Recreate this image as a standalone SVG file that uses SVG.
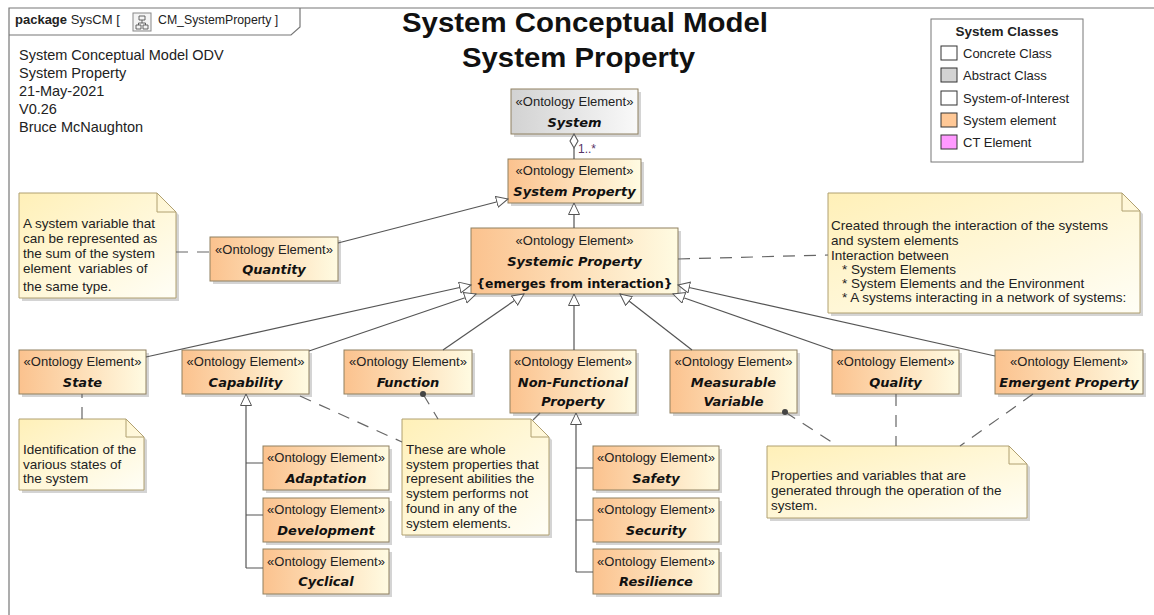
<svg xmlns="http://www.w3.org/2000/svg" width="1154" height="615" viewBox="0 0 1154 615">
<defs>
<linearGradient id="gEl" x1="0" y1="0" x2="1" y2="0">
<stop offset="0" stop-color="#fbc28e"/>
<stop offset="1" stop-color="#fffbe2"/>
</linearGradient>
<linearGradient id="gAbs" x1="0" y1="0" x2="1" y2="0">
<stop offset="0" stop-color="#d2d2d2"/>
<stop offset="1" stop-color="#f9f9f9"/>
</linearGradient>
<linearGradient id="gNote" x1="0" y1="0" x2="1" y2="1">
<stop offset="0" stop-color="#fff0b8"/>
<stop offset="1" stop-color="#fffef6"/>
</linearGradient>
<marker id="gen" markerUnits="userSpaceOnUse" markerWidth="14" markerHeight="14" refX="12" refY="6" orient="auto">
<path d="M0.5,0.5 L12,6 L0.5,11.5 Z" fill="#fff" stroke="#555" stroke-width="1"/>
</marker>
<style>
.frame{fill:none;stroke:#777;stroke-width:1.2}
.box{stroke:#8f8060;stroke-width:1}
.el{fill:url(#gEl)}
.abs{fill:url(#gAbs)}
.shadow{fill:#a0a0a0;opacity:0.45}
.note{fill:url(#gNote);stroke:#b0a070;stroke-width:1}
.fold{fill:none;stroke:#b0a070;stroke-width:1}
.st{font-family:"Liberation Sans",Arial,sans-serif;font-size:13px;fill:#222;text-anchor:middle}
.nm{font-family:"DejaVu Sans",Verdana,sans-serif;font-size:13px;font-weight:bold;font-style:italic;fill:#111;text-anchor:middle}
.cn{font-family:"DejaVu Sans",Verdana,sans-serif;font-size:12.4px;font-weight:bold;font-style:normal;fill:#111;text-anchor:middle}
.nt{font-family:"Liberation Sans",Arial,sans-serif;font-size:13.5px;fill:#222}
.hd{font-family:"Liberation Sans",Arial,sans-serif;font-size:14.5px;fill:#222}
.ttl{font-family:"Liberation Sans",Arial,sans-serif;font-size:28px;font-weight:bold;fill:#111}
.lg{font-family:"Liberation Sans",Arial,sans-serif;font-size:13px;fill:#222}
.line{fill:none;stroke:#555;stroke-width:1.2}
.dash{fill:none;stroke:#666;stroke-width:1.2;stroke-dasharray:12,9}
.gl{fill:none;stroke:#555;stroke-width:1.2;marker-end:url(#gen)}
</style>
</defs>
<rect x="0" y="0" width="1154" height="615" fill="#fff"/>

<g id="frame">
<path class="frame" d="M9,615 V8 H1154"/>
<path class="frame" d="M9,35 H291 L300,27 V8"/>
<text x="15" y="24" font-family="Liberation Sans,Arial,sans-serif" font-size="13" fill="#222"><tspan font-weight="bold">package</tspan> SysCM [</text>
<rect x="133" y="13" width="18" height="18" fill="#f4f4f4" stroke="#888" stroke-width="1"/>
<path d="M139,16 h6 v4 h-6 z M136,25 h5 v4 h-5 z M143,25 h5 v4 h-5 z M142,20 v3 M138.5,23 h7 M138.5,23 v2 M145.5,23 v2" fill="none" stroke="#555" stroke-width="0.9"/>
<text x="158" y="24" font-family="Liberation Sans,Arial,sans-serif" font-size="12.3" fill="#222">CM_SystemProperty ]</text>
</g>

<g id="header">
<text class="hd" x="19" y="59.5">System Conceptual Model ODV</text>
<text class="hd" x="19" y="77.5">System Property</text>
<text class="hd" x="19" y="95.5">21-May-2021</text>
<text class="hd" x="19" y="113.5">V0.26</text>
<text class="hd" x="19" y="131.5">Bruce McNaughton</text>
</g>

<g id="title">
<text class="ttl" x="402" y="32" textLength="366" lengthAdjust="spacingAndGlyphs">System Conceptual Model</text>
<text class="ttl" x="462" y="67" textLength="233" lengthAdjust="spacingAndGlyphs">System Property</text>
</g>

<g id="legend">
<rect x="931" y="19" width="152" height="143" fill="#fff" stroke="#777" stroke-width="1"/>
<text x="1007" y="36" font-family="Liberation Sans,Arial,sans-serif" font-size="13.5" font-weight="bold" fill="#222" text-anchor="middle">System Classes</text>
<rect x="941" y="46" width="16" height="14" fill="#fff" stroke="#333"/>
<text class="lg" x="963" y="58">Concrete Class</text>
<rect x="941" y="68" width="16" height="14" fill="#d3d3d3" stroke="#333"/>
<text class="lg" x="963" y="80">Abstract Class</text>
<rect x="941" y="91" width="16" height="14" fill="#fff" stroke="#333"/>
<text class="lg" x="963" y="103">System-of-Interest</text>
<rect x="941" y="113" width="16" height="14" fill="#ffc896" stroke="#333"/>
<text class="lg" x="963" y="125">System element</text>
<rect x="941" y="135" width="16" height="14" fill="#ff99ff" stroke="#333"/>
<text class="lg" x="963" y="147">CT Element</text>
</g>

<g id="System">
<rect class="shadow" x="514" y="92" width="127" height="45"/>
<rect class="box abs" x="511" y="89" width="127" height="45"/>
<text class="st" x="574.5" y="105.5">«Ontology Element»</text>
<text class="nm" x="574.5" y="126.5">System</text>
</g>
<g id="SystemProperty">
<rect class="shadow" x="511" y="162" width="133" height="44"/>
<rect class="box el" x="508" y="159" width="133" height="44"/>
<text class="st" x="574.5" y="175">«Ontology Element»</text>
<text class="nm" x="574.5" y="196">System Property</text>
</g>
<g id="SystemicProperty">
<rect class="shadow" x="474" y="231" width="207" height="66"/>
<rect class="box el" x="471" y="228" width="207" height="66"/>
<text class="st" x="574.5" y="244.5">«Ontology Element»</text>
<text class="nm" x="574.5" y="265.5">Systemic Property</text>
<text class="cn" x="574.5" y="287.5">{emerges from interaction}</text>
</g>
<g id="Quantity">
<rect class="shadow" x="213" y="240" width="128" height="44"/>
<rect class="box el" x="210" y="237" width="128" height="44"/>
<text class="st" x="274" y="253.5">«Ontology Element»</text>
<text class="nm" x="274" y="273.5">Quantity</text>
</g>
<g id="State">
<rect class="shadow" x="22" y="353" width="127" height="44"/>
<rect class="box el" x="19" y="350" width="127" height="44"/>
<text class="st" x="82.5" y="366">«Ontology Element»</text>
<text class="nm" x="82.5" y="387">State</text>
</g>
<g id="Capability">
<rect class="shadow" x="185" y="353" width="127" height="44"/>
<rect class="box el" x="182" y="350" width="127" height="44"/>
<text class="st" x="245.5" y="366">«Ontology Element»</text>
<text class="nm" x="245.5" y="387">Capability</text>
</g>
<g id="Function">
<rect class="shadow" x="347" y="353" width="128" height="44"/>
<rect class="box el" x="344" y="350" width="128" height="44"/>
<text class="st" x="408" y="366">«Ontology Element»</text>
<text class="nm" x="408" y="387">Function</text>
</g>
<g id="NonFunctionalProperty">
<rect class="shadow" x="513" y="353" width="126" height="63"/>
<rect class="box el" x="510" y="350" width="126" height="63"/>
<text class="st" x="573" y="366">«Ontology Element»</text>
<text class="nm" x="573" y="386.5">Non-Functional</text>
<text class="nm" x="573" y="405.5">Property</text>
</g>
<g id="MeasurableVariable">
<rect class="shadow" x="673" y="353" width="127" height="63"/>
<rect class="box el" x="670" y="350" width="127" height="63"/>
<text class="st" x="733.5" y="366">«Ontology Element»</text>
<text class="nm" x="733.5" y="386.5">Measurable</text>
<text class="nm" x="733.5" y="405.5">Variable</text>
</g>
<g id="Quality">
<rect class="shadow" x="835" y="353" width="127" height="44"/>
<rect class="box el" x="832" y="350" width="127" height="44"/>
<text class="st" x="895.5" y="366">«Ontology Element»</text>
<text class="nm" x="895.5" y="387">Quality</text>
</g>
<g id="EmergentProperty">
<rect class="shadow" x="998" y="353" width="148" height="44"/>
<rect class="box el" x="995" y="350" width="148" height="44"/>
<text class="st" x="1069" y="366">«Ontology Element»</text>
<text class="nm" x="1069" y="387">Emergent Property</text>
</g>
<g id="Adaptation">
<rect class="shadow" x="266" y="449" width="126" height="44"/>
<rect class="box el" x="263" y="446" width="126" height="44"/>
<text class="st" x="326" y="462">«Ontology Element»</text>
<text class="nm" x="326" y="482.5">Adaptation</text>
</g>
<g id="Development">
<rect class="shadow" x="266" y="501" width="126" height="44"/>
<rect class="box el" x="263" y="498" width="126" height="44"/>
<text class="st" x="326" y="514">«Ontology Element»</text>
<text class="nm" x="326" y="534.5">Development</text>
</g>
<g id="Cyclical">
<rect class="shadow" x="266" y="552" width="126" height="45"/>
<rect class="box el" x="263" y="549" width="126" height="45"/>
<text class="st" x="326" y="565.5">«Ontology Element»</text>
<text class="nm" x="326" y="586">Cyclical</text>
</g>
<g id="Safety">
<rect class="shadow" x="596" y="449" width="126" height="44"/>
<rect class="box el" x="593" y="446" width="126" height="44"/>
<text class="st" x="656" y="462">«Ontology Element»</text>
<text class="nm" x="656" y="482.5">Safety</text>
</g>
<g id="Security">
<rect class="shadow" x="596" y="501" width="126" height="44"/>
<rect class="box el" x="593" y="498" width="126" height="44"/>
<text class="st" x="656" y="514">«Ontology Element»</text>
<text class="nm" x="656" y="534.5">Security</text>
</g>
<g id="Resilience">
<rect class="shadow" x="596" y="552" width="126" height="45"/>
<rect class="box el" x="593" y="549" width="126" height="45"/>
<text class="st" x="656" y="565.5">«Ontology Element»</text>
<text class="nm" x="656" y="586">Resilience</text>
</g>

<g id="QuantityNote">
<path class="shadow" d="M22,196 H160 L179,215 V301 H22 Z"/>
<path class="note" d="M19,193 H157 L176,212 V298 H19 Z"/>
<path class="fold" d="M157,193 V212 H176"/>
<text class="nt" x="23" y="228">A system variable that</text>
<text class="nt" x="23" y="243">can be represented as</text>
<text class="nt" x="23" y="258">the sum of the system</text>
<text class="nt" x="23" y="273" xml:space="preserve">element  variables of</text>
<text class="nt" x="23" y="291">the same type.</text>
</g>
<g id="SystemicNote">
<path class="shadow" d="M831,196 H1125 L1143,214 V316 H831 Z"/>
<path class="note" d="M828,193 H1122 L1140,211 V313 H828 Z"/>
<path class="fold" d="M1122,193 V211 H1140"/>
<text class="nt" x="831" y="230">Created through the interaction of the systems</text>
<text class="nt" x="831" y="245">and system elements</text>
<text class="nt" x="831" y="260">Interaction between</text>
<text class="nt" x="842" y="274">* System Elements</text>
<text class="nt" x="842" y="288">* System Elements and the Environment</text>
<text class="nt" x="842" y="302">* A systems interacting in a network of systems:</text>
</g>
<g id="StateNote">
<path class="shadow" d="M22,422 H129 L147,440 V493 H22 Z"/>
<path class="note" d="M19,419 H126 L144,437 V490 H19 Z"/>
<path class="fold" d="M126,419 V437 H144"/>
<text class="nt" x="23" y="454">Identification of the</text>
<text class="nt" x="23" y="469">various states of</text>
<text class="nt" x="23" y="483">the system</text>
</g>
<g id="FunctionNote">
<path class="shadow" d="M405,422 H534 L552,440 V538 H405 Z"/>
<path class="note" d="M402,419 H531 L549,437 V535 H402 Z"/>
<path class="fold" d="M531,419 V437 H549"/>
<text class="nt" x="406" y="454">These are whole</text>
<text class="nt" x="406" y="469">system properties that</text>
<text class="nt" x="406" y="483">represent abilities the</text>
<text class="nt" x="406" y="498">system performs not</text>
<text class="nt" x="406" y="513">found in any of the</text>
<text class="nt" x="406" y="528">system elements.</text>
</g>
<g id="OperationNote">
<path class="shadow" d="M770,449 H1012 L1030,467 V521 H770 Z"/>
<path class="note" d="M767,446 H1009 L1027,464 V518 H767 Z"/>
<path class="fold" d="M1009,446 V464 H1027"/>
<text class="nt" x="771" y="480">Properties and variables that are</text>
<text class="nt" x="771" y="495">generated through the operation of the</text>
<text class="nt" x="771" y="510">system.</text>
</g>

<g id="connectors">
<path d="M574,134 L578,141 L574,148 L570,141 Z" fill="#fff" stroke="#555" stroke-width="1.1"/>
<path class="line" d="M574,148 V159"/>
<text x="578" y="153" font-family="Liberation Sans,Arial,sans-serif" font-size="12" fill="#553366">1..*</text>
<path class="gl" d="M574,228 V203"/>
<path class="gl" d="M338,243 L508,199"/>
<path class="gl" d="M146,357 L471,285"/>
<path class="gl" d="M309,351 L476,294"/>
<path class="gl" d="M443,350 L524,294"/>
<path class="gl" d="M574,350 V294"/>
<path class="gl" d="M692,350 L620,294"/>
<path class="gl" d="M833,350 L673,294"/>
<path class="gl" d="M995,356 L678,285"/>
<path class="gl" d="M246,568 V394"/>
<path class="line" d="M246,463 H263 M246,515 H263 M246,568 H263"/>
<path class="gl" d="M576,572 V413"/>
<path class="line" d="M576,468 H593 M576,520 H593 M576,572 H593"/>
<path class="dash" d="M176,252 L210,252"/>
<path class="dash" d="M82,419 L82,394"/>
<path class="dash" d="M423,394 L438,419"/>
<circle cx="423" cy="394" r="3" fill="#444"/>
<path class="dash" d="M300,396 L402,442"/>
<path class="dash" d="M540,413 L533,420"/>
<path class="dash" d="M785,412 L838,446"/>
<circle cx="785" cy="412" r="3" fill="#444"/>
<path class="dash" d="M896,394 L896,446"/>
<path class="dash" d="M1033,394 L960,446"/>
<path class="dash" d="M678,259 L828,255"/>
</g>
</svg>
